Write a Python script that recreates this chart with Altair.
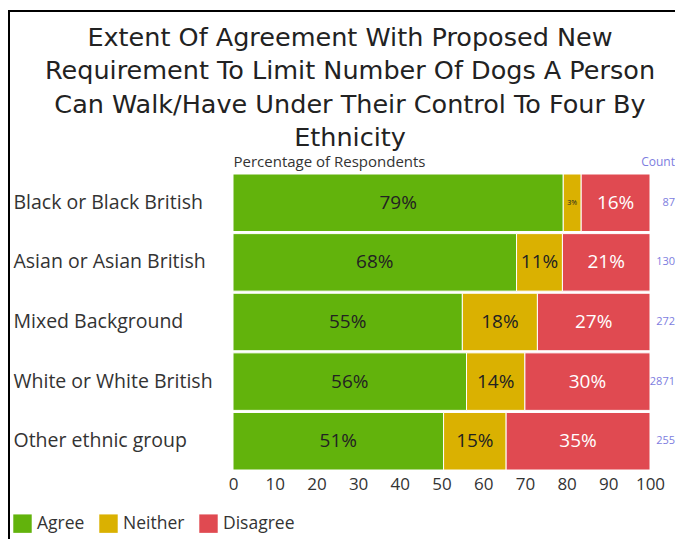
import altair as alt
import pandas as pd

groups = ["Black or Black British", "Asian or Asian British", "Mixed Background",
          "White or White British", "Other ethnic group"]
agree = [79.2, 68.0, 55.0, 56.0, 50.5]
neither = [4.3, 11.0, 18.0, 14.0, 15.0]
disagree = [16.5, 21.0, 27.0, 30.0, 34.5]
agree_lbl = ["79%", "68%", "55%", "56%", "51%"]
neither_lbl = ["3%", "11%", "18%", "14%", "15%"]
disagree_lbl = ["16%", "21%", "27%", "30%", "35%"]
counts = [87, 130, 272, 2871, 255]
cats = ["Agree", "Neither", "Disagree"]
colors = ["#62b30c", "#dab101", "#e04a51"]
ticks = list(range(0, 101, 10))
title_lines = ["Extent Of Agreement With Proposed New",
               "Requirement To Limit Number Of Dogs A Person",
               "Can Walk/Have Under Their Control To Four By",
               "Ethnicity"]

FONT = "Open Sans"
TITLE_FONT = "DejaVu Sans"

rows = []
for i, g in enumerate(groups):
    start = 0.0
    for k, (cat, vals, labs) in enumerate(zip(cats, [agree, neither, disagree],
                                               [agree_lbl, neither_lbl, disagree_lbl])):
        v = vals[i]
        rows.append(dict(group=g, cat=cat, order=k, start=start, end=start + v,
                         mid=start + v / 2, label=labs[i], width=v))
        start += v
df = pd.DataFrame(rows)
cdf = pd.DataFrame({"group": groups, "count": [str(c) for c in counts]})

W, H = 417, 296

y_enc = alt.Y("group:N", sort=groups,
              scale=alt.Scale(paddingInner=0.035, paddingOuter=0),
              axis=alt.Axis(title=None, labelAlign="left", labelPadding=220, ticks=False,
                            domain=False, labelFontSize=19.5, labelColor="#333",
                            labelFont=FONT, labelLimit=300))
x_scale = alt.Scale(domain=[0, 100], nice=False)

bars = alt.Chart(df).mark_bar(stroke="white", strokeWidth=1).encode(
    x=alt.X("start:Q", scale=x_scale,
            axis=alt.Axis(values=ticks, grid=False, ticks=False, domain=False,
                          labelFontSize=17, labelPadding=6, labelColor="#333",
                          labelFont=FONT, labelFlush=False,
                          title="Percentage of Respondents", titleX=0, titleY=-H - 8,
                          titleAlign="left", titleBaseline="alphabetic",
                          titleFontSize=15, titleFontWeight="normal",
                          titleColor="#333", titleFont=FONT)),
    x2="end:Q",
    y=y_enc,
    color=alt.Color("cat:N", scale=alt.Scale(domain=cats, range=colors),
                    legend=alt.Legend(title=None, orient="none", legendX=-220, legendY=340,
                                      direction="horizontal", symbolType="square",
                                      symbolSize=340, symbolStrokeWidth=0,
                                      labelFontSize=17.5, labelFont=FONT, labelColor="#333",
                                      labelOffset=5, columnPadding=14)),
    order="order:Q",
)

text = alt.Chart(df).mark_text(font=FONT, baseline="middle").encode(
    x=alt.X("mid:Q", scale=x_scale),
    y=y_enc,
    text="label:N",
    color=alt.condition(alt.datum.cat == "Disagree", alt.value("white"), alt.value("#222")),
    size=alt.condition(alt.datum.width < 5, alt.value(7), alt.value(19)),
)

count_txt = alt.Chart(cdf).mark_text(font=FONT, align="right", fontSize=11,
                                     color="#7d7de0").encode(
    x=alt.value(442), y=y_enc, text="count:N")

count_hdr = alt.Chart(pd.DataFrame({"t": ["Count"]})).mark_text(
    font=FONT, align="right", baseline="alphabetic", fontSize=12, color="#7d7de0"
).encode(x=alt.value(442), y=alt.value(-8), text="t:N")

title_txt = alt.Chart(pd.DataFrame({"t": [title_lines]})).mark_text(
    font=TITLE_FONT, align="center", baseline="alphabetic", fontSize=25.5, lineHeight=33.3,
    color="#222"
).encode(x=alt.value(117), y=alt.value(-128), text=alt.value(title_lines))

frame = pd.DataFrame({"k": [0]})
top_rule = alt.Chart(frame).mark_rule(color="black", strokeWidth=2).encode(
    x=alt.value(-225), x2=alt.value(445), y=alt.value(-163))
left_rule = alt.Chart(frame).mark_rule(color="black", strokeWidth=2).encode(
    x=alt.value(-224), y=alt.value(-164), y2=alt.value(370))

chart = alt.layer(bars, text, count_txt, count_hdr, title_txt, top_rule, left_rule).properties(
    width=W, height=H,
    autosize=alt.AutoSizeParams(type="none"),
    padding={"left": 225, "top": 166, "right": 25, "bottom": 69},
).configure_view(stroke=None)

chart.save("out.html", embed_options={"renderer": "svg", "actions": False})
